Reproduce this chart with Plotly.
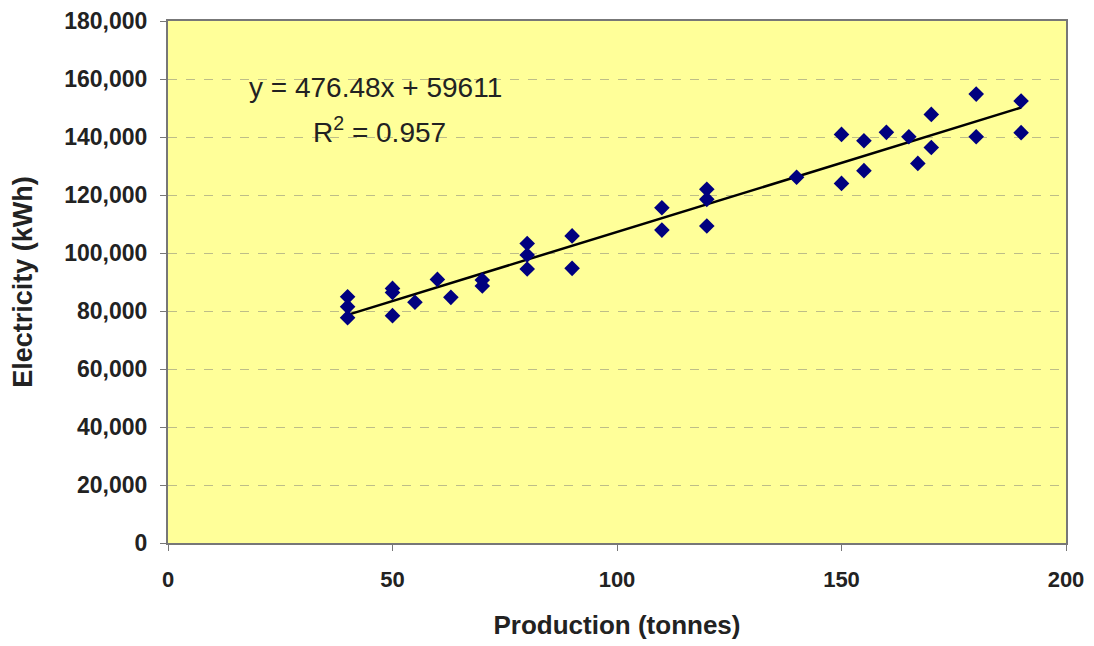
import plotly.graph_objects as go

production = [40, 40, 40, 50, 50, 50, 55, 60, 63, 70, 70, 80, 80, 80, 90, 90,
              110, 110, 120, 120, 120, 140, 150, 150, 155, 155, 160, 165, 167,
              170, 170, 180, 180, 190, 190]
electricity = [84900, 81500, 77700, 87800, 86400, 78400, 83000, 90900, 84700,
               90700, 88600, 103300, 99300, 94500, 105900, 94700,
               115600, 107900, 122000, 118500, 109300, 126100, 140900, 124000,
               138700, 128400, 141600, 140100, 130900, 147800, 136400,
               154800, 140100, 152400, 141500]

slope = 476.48
intercept = 59611
r2 = 0.957

xt = [0, 50, 100, 150, 200]
yt = list(range(0, 180001, 20000))

fnt = "Liberation Sans, Arial, sans-serif"

xline = [min(production), max(production)]
yline = [slope * v + intercept for v in xline]

fig = go.Figure()
fig.add_trace(go.Scatter(x=xline, y=yline, mode="lines",
                         line=dict(color="black", width=2.5), hoverinfo="skip"))
fig.add_trace(go.Scatter(x=production, y=electricity, mode="markers",
                         marker=dict(symbol="diamond", size=12, color="#00007F",
                                     line=dict(width=0))))

fig.add_annotation(x=46.3, y=156900, xref="x", yref="y",
                   text=f"y = {slope}x + {intercept}", showarrow=False,
                   font=dict(family=fnt, size=28, color="#222"), xanchor="center", yanchor="middle")
fig.add_annotation(x=47.2, y=142400, xref="x", yref="y",
                   text=f"R<sup>2</sup> = {r2}", showarrow=False,
                   font=dict(family=fnt, size=28, color="#222"), xanchor="center", yanchor="middle")

fig.update_layout(
    width=1086, height=638,
    margin=dict(l=160, r=28, t=13, b=103),
    paper_bgcolor="white",
    plot_bgcolor="#FFFF99",
    showlegend=False,
    font=dict(family=fnt, color="#222"),
    xaxis=dict(range=[0, 200], tickvals=xt, ticktext=[str(v) for v in xt],
               showgrid=False, zeroline=False, automargin=False,
               showline=True, linecolor="#777", linewidth=2, mirror=True,
               ticks="outside", ticklen=6, tickcolor="#777", ticklabelstandoff=10,
               tickfont=dict(size=22, family=fnt, weight="bold", color="#222"),
               title=dict(text="<b>Production (tonnes)</b>", font=dict(size=26, family=fnt, color="#222"),
                          standoff=24)),
    yaxis=dict(range=[0, 180000], tickvals=yt, ticktext=[f"{v:,}" for v in yt],
               showgrid=True, gridcolor="#BDBD88", griddash="dash", gridwidth=1,
               zeroline=False, automargin=False,
               showline=True, linecolor="#777", linewidth=2, mirror=True,
               ticks="outside", ticklen=6, tickcolor="#777", ticklabelstandoff=8,
               tickfont=dict(size=23, family=fnt, weight="bold", color="#222"),
               title=dict(text="<b>Electricity (kWh)</b>", font=dict(size=27, family=fnt, color="#222"),
                          standoff=26)),
)

fig.write_html("out.html")
